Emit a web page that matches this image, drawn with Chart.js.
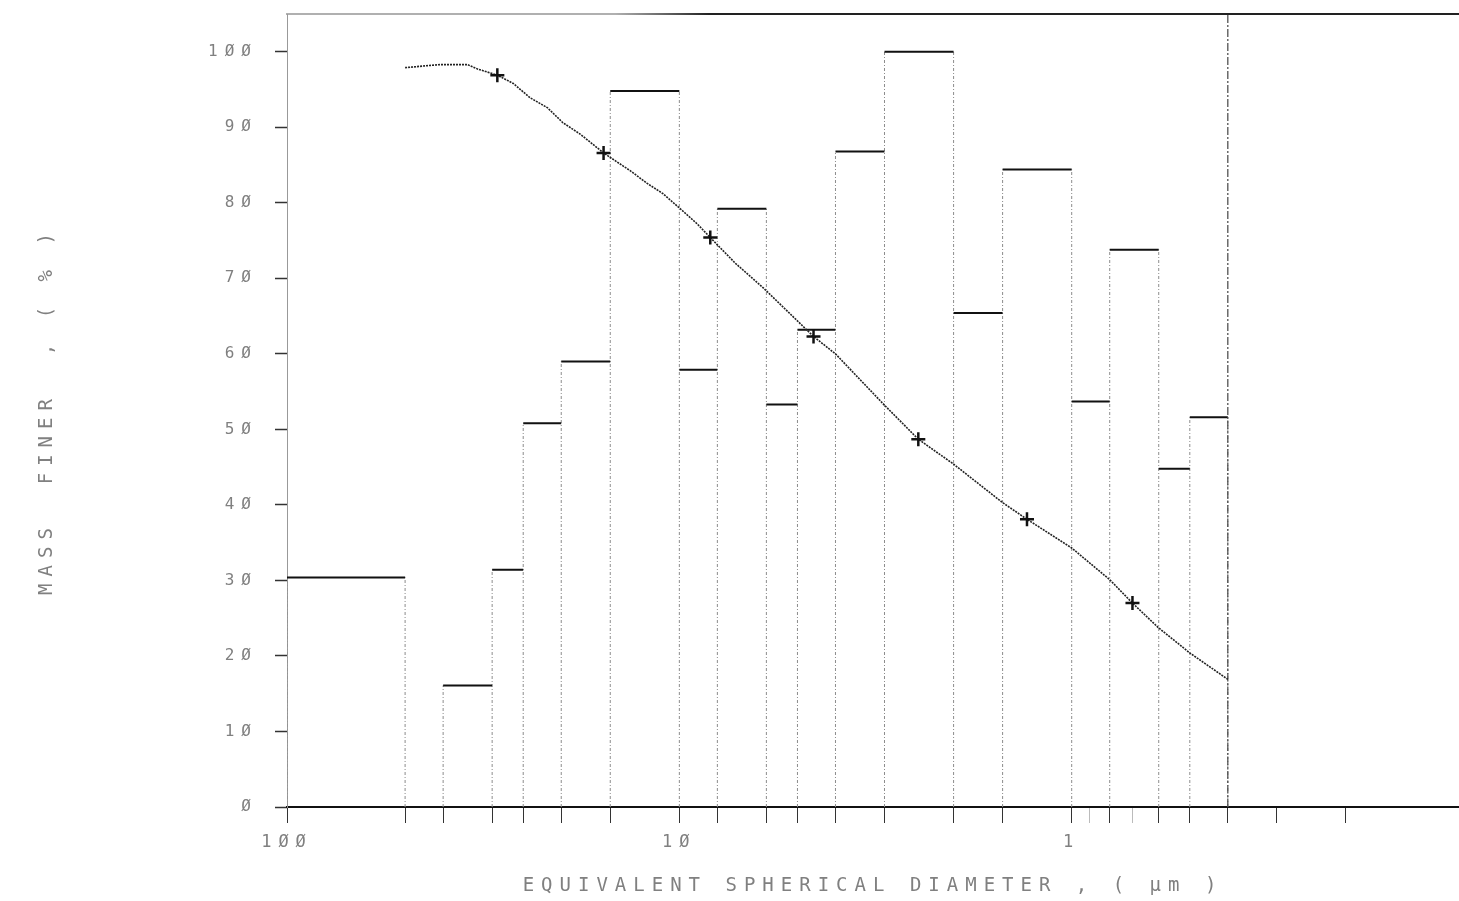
<!DOCTYPE html>
<html>
<head>
<meta charset="utf-8">
<title>Mass finer vs equivalent spherical diameter</title>
<script src="https://cdn.jsdelivr.net/npm/chart.js@4.4.1/dist/chart.umd.min.js"></script>
<style>
  html, body { margin: 0; padding: 0; background: #ffffff; overflow: hidden; }
  canvas { display: block; }
</style>
</head>
<body>
<canvas id="chart" width="1459" height="901"></canvas>
<script>
// Size-class boundaries (µm), from coarse to fine
const binEdges = [100, 50, 40, 30, 25, 20, 15, 10, 8, 6, 5, 4, 3, 2, 1.5, 1, 0.8, 0.6, 0.5, 0.4];
// Relative mass in each size class (largest class = 100)
const binHeights = [30.4, 0, 16.1, 31.4, 50.8, 59.0, 94.8, 57.9, 79.2, 53.3, 63.2, 86.8, 100, 65.4, 84.4, 53.7, 73.8, 44.8, 51.6];

// Cumulative mass finer curve
const curveDiameters = [50, 40.7, 34.7, 32.6, 29.1, 26.5, 24.0, 21.7, 19.8, 17.9, 15.6, 13.3, 12.1, 11.0, 9.94, 9.0, 8.34, 7.2, 6.1, 4.55, 4.0, 3.0, 2.46, 2.0, 1.5, 1.3, 1.0, 0.8, 0.7, 0.6, 0.5, 0.4];
const curvePercents  = [97.9, 98.3, 98.3, 97.7, 96.9, 95.8, 93.9, 92.6, 90.6, 89.1, 86.6, 84.2, 82.6, 81.2, 79.2, 77.2, 75.4, 72.0, 68.7, 62.3, 60.0, 53.2, 48.7, 45.4, 40.3, 38.1, 34.3, 30.1, 27.0, 23.7, 20.4, 16.9];

// Plotted measurement points on the curve
const markerDiameters = [29.1, 15.6, 8.34, 4.55, 2.46, 1.30, 0.70];
const markerPercents  = [96.9, 86.6, 75.4, 62.3, 48.7, 38.1, 27.0];

// End of the analysed size range
const cutoffDiameter = 0.4;

// Axis ticks
const xTickValues = [100, 50, 40, 30, 25, 20, 15, 10, 8, 6, 5, 4, 3, 2, 1.5, 1, 0.9, 0.8, 0.7, 0.6, 0.5, 0.4, 0.3, 0.2];
const xTickLabels = { 100: '1\u00d8\u00d8', 10: '1\u00d8', 1: '1' };
const yTickValues = [0, 10, 20, 30, 40, 50, 60, 70, 80, 90, 100];
const yTickLabels = ['\u00d8', '1\u00d8', '2\u00d8', '3\u00d8', '4\u00d8', '5\u00d8', '6\u00d8', '7\u00d8', '8\u00d8', '9\u00d8', '1\u00d8\u00d8'];

const xRange = { min: 0.103, max: 100 };
const yRange = { min: 0, max: 105 };

// Solid tops of the histogram classes
const topSegments = [];
binHeights.forEach((h, i) => {
  if (h <= 0) return;
  topSegments.push({ x: binEdges[i], y: h }, { x: binEdges[i + 1], y: h }, { x: binEdges[i + 1], y: null });
});

// Dotted sides of the histogram classes
const sideSegments = [];
binEdges.forEach((e, j) => {
  const left = j > 0 ? binHeights[j - 1] : 0;
  const right = j < binHeights.length ? binHeights[j] : 0;
  const top = Math.max(left, right);
  if (top <= 0) return;
  sideSegments.push({ x: e, y: 0 }, { x: e, y: top }, { x: e, y: null });
});

const curvePoints = curveDiameters.map((d, i) => ({ x: d, y: curvePercents[i] }));
const markerPoints = markerDiameters.map((d, i) => ({ x: d, y: markerPercents[i] }));
const cutoffPoints = [{ x: cutoffDiameter, y: yRange.min }, { x: cutoffDiameter, y: yRange.max }];

const textColor = '#808080';
const mono = '"DejaVu Sans Mono", "Liberation Mono", monospace';

// Wide plotter-style lettering
const plotterLettering = {
  id: 'plotterLettering',
  beforeUpdate(chart) { chart.ctx.letterSpacing = '7px'; },
  beforeDraw(chart) { chart.ctx.letterSpacing = '7px'; }
};

// Keep the plot frame flush with the fixed axis boxes
function noScalePadding(scale) {
  scale.paddingTop = 0;
  scale.paddingBottom = 0;
  scale.paddingLeft = 0;
  scale.paddingRight = 0;
}

// Top frame line: faint over the coarse end, solid over the rest
function topFrameColor(ctx) {
  const chart = ctx.chart;
  const area = chart.chartArea;
  if (!area) return '#333333';
  const g = chart.ctx.createLinearGradient(area.left, 0, area.right, 0);
  g.addColorStop(0, '#b0b0b0');
  g.addColorStop(0.28, '#b0b0b0');
  g.addColorStop(0.36, '#222222');
  g.addColorStop(1, '#222222');
  return g;
}

new Chart(document.getElementById('chart'), {
  type: 'line',
  data: {
    datasets: [
      {
        label: 'class sides',
        data: sideSegments,
        borderColor: '#8c8c8c',
        borderWidth: 1,
        borderDash: [3, 2, 1, 2],
        pointRadius: 0,
        spanGaps: false,
        order: 5
      },
      {
        label: 'class tops',
        data: topSegments,
        borderColor: '#111111',
        borderWidth: 2,
        pointRadius: 0,
        spanGaps: false,
        order: 4
      },
      {
        label: 'range limit',
        data: cutoffPoints,
        borderColor: '#444444',
        borderWidth: 1.2,
        borderDash: [8, 2, 2, 2],
        pointRadius: 0,
        order: 3
      },
      {
        label: 'mass finer',
        data: curvePoints,
        borderColor: '#222222',
        borderWidth: 1.6,
        borderDash: [2, 1],
        pointRadius: 0,
        tension: 0,
        order: 2
      },
      {
        label: 'measured points',
        data: markerPoints,
        showLine: false,
        pointStyle: 'cross',
        pointRadius: 7,
        pointBorderWidth: 2.5,
        pointBorderColor: '#111111',
        pointBackgroundColor: '#111111',
        order: 1
      }
    ]
  },
  options: {
    responsive: false,
    animation: false,
    events: [],
    layout: { autoPadding: false, padding: { left: 0, right: 0, top: 0, bottom: 0 } },
    plugins: {
      legend: { display: false },
      tooltip: { enabled: false }
    },
    scales: {
      x: {
        type: 'logarithmic',
        position: 'bottom',
        reverse: true,
        min: xRange.min,
        max: xRange.max,
        afterBuildTicks(scale) {
          scale.ticks = xTickValues.map(v => ({ value: v }));
        },
        afterFit(scale) { scale.height = 94; noScalePadding(scale); },
        ticks: {
          autoSkip: false,
          maxRotation: 0,
          minRotation: 0,
          padding: 9,
          color: textColor,
          font: { family: mono, size: 17 },
          callback: (v) => xTickLabels[v] || ''
        },
        grid: {
          drawOnChartArea: false,
          drawTicks: true,
          tickLength: 16,
          color: (ctx) => (ctx.tick && (ctx.tick.value === 0.9 || ctx.tick.value === 0.7)) ? '#bbbbbb' : '#333333',
          lineWidth: 1
        },
        border: { display: true, color: '#111111', width: 2 },
        title: {
          display: true,
          text: 'EQUIVALENT SPHERICAL DIAMETER , ( \u00b5m )',
          color: textColor,
          font: { family: mono, size: 19 },
          padding: { top: 0, bottom: 4 }
        }
      },
      xTop: {
        type: 'logarithmic',
        position: 'top',
        reverse: true,
        min: xRange.min,
        max: xRange.max,
        afterFit(scale) { scale.height = 14; noScalePadding(scale); },
        ticks: { display: false },
        grid: { display: false, drawTicks: false },
        border: { display: true, color: topFrameColor, width: 2 }
      },
      y: {
        type: 'linear',
        position: 'left',
        min: yRange.min,
        max: yRange.max,
        afterBuildTicks(scale) {
          scale.ticks = yTickValues.map(v => ({ value: v }));
        },
        afterFit(scale) { scale.width = 287; noScalePadding(scale); },
        ticks: {
          padding: 14,
          color: textColor,
          font: { family: mono, size: 16 },
          callback: (v) => yTickLabels[yTickValues.indexOf(v)]
        },
        grid: {
          drawOnChartArea: false,
          drawTicks: true,
          tickLength: 15,
          tickBorderDash: [0, 3, 12, 60],
          tickColor: '#333333',
          tickWidth: 1.5
        },
        border: { display: true, color: '#999999', width: 1, dash: [2, 3] },
        title: {
          display: true,
          text: 'MASS  FINER  , ( % )',
          color: textColor,
          font: { family: mono, size: 19 },
          padding: { top: 36, bottom: 0 }
        }
      }
    }
  },
  plugins: [plotterLettering]
});
</script>
</body>
</html>
